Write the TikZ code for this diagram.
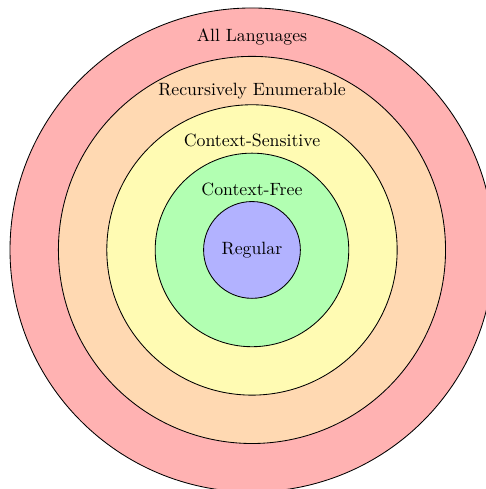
\documentclass[tikz,border=0pt]{standalone}
\begin{document}
\begin{tikzpicture}[x=1cm,y=1cm,
  ring/.style={draw=black, line width=0.5pt},
  lbl/.style={font=\fontsize{10.45}{12.5}\selectfont}]
\useasboundingbox (-5.207,-4.94) rectangle (4.835,5.165);
\begin{scope}
\clip (-5.207,-4.94) rectangle (4.835,5.165);
\filldraw[ring, fill=red!30] (0,0) circle (5);
\filldraw[ring, fill=orange!30] (0,0) circle (4);
\filldraw[ring, fill=yellow!30] (0,0) circle (3);
\filldraw[ring, fill=green!30] (0,0) circle (2);
\filldraw[ring, fill=blue!30] (0,0) circle (1);
\end{scope}
\node[lbl] (all) at (0,4.4) {All Languages};
\node[lbl] (re) at (0,3.29) {Recursively Enumerable};
\node[lbl] (cs) at (0,2.27) {Context-Sensitive};
\node[lbl] (cf) at (0,1.26) {Context-Free};
\node[lbl] (reg) at (0,0) {Regular};
\end{tikzpicture}
\end{document}
